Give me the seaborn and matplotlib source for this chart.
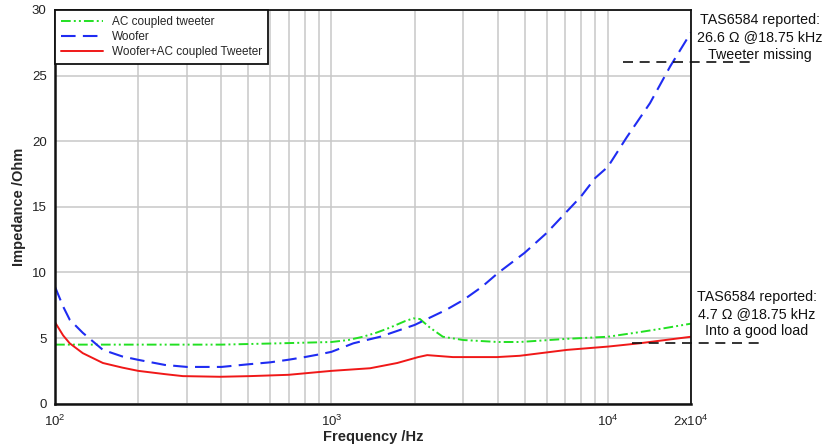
import numpy as np
import pandas as pd
import matplotlib
matplotlib.use("Agg")
import matplotlib.pyplot as plt
import seaborn as sns
from matplotlib.ticker import FixedLocator, NullFormatter

# ---- data ----
freq_tweeter = [100, 200, 400, 650, 1000, 1150, 1300, 1450, 1630, 1850, 1980, 2090, 2270,
                2530, 3000, 4000, 4800, 7100, 10000, 13000, 16000, 20000]
imp_tweeter = [4.5, 4.5, 4.5, 4.6, 4.7, 4.85, 5.1, 5.4, 5.8, 6.3, 6.5, 6.45, 5.8,
               5.1, 4.85, 4.7, 4.7, 4.94, 5.1, 5.45, 5.75, 6.1]

freq_woofer = [100, 107, 113, 126, 149, 175, 200, 250, 300, 400, 500, 600, 700, 800, 900,
               1000, 1200, 1500, 2000, 2600, 3000, 3500, 4000, 5000, 6000, 7000, 8000,
               9000, 10000, 11700, 14200, 16800, 20000]
imp_woofer = [8.9, 7.4, 6.4, 5.4, 4.1, 3.6, 3.34, 2.95, 2.8, 2.8, 3.0, 3.15, 3.35, 3.55, 3.75,
              3.95, 4.6, 5.1, 6.0, 7.15, 7.9, 8.9, 9.95, 11.5, 13.0, 14.5, 15.8,
              17.2, 18.05, 20.3, 22.9, 25.7, 28.3]

freq_combined = [100, 107, 113, 126, 149, 175, 200, 250, 290, 395, 507, 700, 1000, 1380,
                 1730, 2060, 2220, 2750, 3970, 4800, 7120, 10000, 13000, 20000]
imp_combined = [6.2, 5.2, 4.6, 3.85, 3.1, 2.75, 2.5, 2.25, 2.1, 2.05, 2.1, 2.2, 2.5, 2.7,
                3.1, 3.55, 3.7, 3.55, 3.55, 3.65, 4.1, 4.35, 4.6, 5.1]

series_names = ["AC coupled tweeter", "Woofer", "Woofer+AC coupled Tweeter"]
x_tick_values = [100, 1000, 10000, 20000]
x_tick_labels = ["$10^2$", "$10^3$", "$10^4$", "2x$10^4$"]
y_tick_values = [0, 5, 10, 15, 20, 25, 30]
reported_levels = [26.0, 4.65]
reported_texts = ["TAS6584 reported:\n26.6 \u03a9 @18.75 kHz\nTweeter missing",
                  "TAS6584 reported:\n4.7 \u03a9 @18.75 kHz\nInto a good load"]

# ---- style ----
sns.set_theme(style="white")
plt.rcParams["font.family"] = ["Liberation Sans", "DejaVu Sans"]
plt.rcParams["mathtext.fontset"] = "custom"
plt.rcParams["mathtext.rm"] = "Liberation Sans"
plt.rcParams["mathtext.it"] = "Liberation Sans:italic"
plt.rcParams["mathtext.bf"] = "Liberation Sans:bold"

fig = plt.figure(figsize=(8.25, 4.46), dpi=100)
ax = fig.add_axes([0.0667, 0.0949, 0.771, 0.8827])

df_t = pd.DataFrame({"f": freq_tweeter, "z": imp_tweeter})
df_w = pd.DataFrame({"f": freq_woofer, "z": imp_woofer})
df_c = pd.DataFrame({"f": freq_combined, "z": imp_combined})

sns.lineplot(data=df_t, x="f", y="z", ax=ax, color="#22e022", lw=1.4,
             estimator=None, sort=False, label=series_names[0])
sns.lineplot(data=df_w, x="f", y="z", ax=ax, color="#1f2cf2", lw=1.5,
             estimator=None, sort=False, label=series_names[1])
sns.lineplot(data=df_c, x="f", y="z", ax=ax, color="#f01818", lw=1.4,
             estimator=None, sort=False, label=series_names[2])

lines = ax.get_lines()
lines[0].set_dashes((5, 1.6, 1, 1.6, 1, 1.6))
lines[1].set_dashes((7, 3.5))

ax.set_xscale("log")
ax.set_xlim(100, 20000)
ax.set_ylim(0, 30)

minor = [m * 10 ** e for e in (2, 3) for m in range(2, 10)]
ax.xaxis.set_minor_locator(FixedLocator(minor))
ax.xaxis.set_minor_formatter(NullFormatter())
ax.set_xticks(x_tick_values)
ax.set_xticklabels(x_tick_labels)
ax.set_yticks(y_tick_values)
ax.set_yticklabels([str(v) for v in y_tick_values])
ax.tick_params(axis="both", which="both", length=0, labelsize=9.5, colors="#222222")
ax.tick_params(axis="x", pad=7)
ax.tick_params(axis="y", pad=6)

ax.grid(True, which="both", axis="x", color="#c8c8c8", lw=1.1)
ax.grid(True, which="major", axis="y", color="#c8c8c8", lw=1.1)
ax.set_axisbelow(True)

for s in ax.spines.values():
    s.set_color("#111111")
    s.set_linewidth(1.3)
ax.spines["left"].set_linewidth(1.8)
ax.spines["bottom"].set_linewidth(1.8)

ax.set_xlabel("Frequency /Hz", fontsize=10.5, fontweight="bold", labelpad=1)
ax.set_ylabel("Impedance /Ohm", fontsize=10.5, fontweight="bold", labelpad=4)

leg = ax.legend(loc="upper left", borderaxespad=0, fontsize=8.5, frameon=True,
                fancybox=False, framealpha=1, edgecolor="#111111",
                handlelength=3.6, handletextpad=0.7, labelspacing=0.25,
                borderpad=0.5)
leg.get_frame().set_linewidth(1.3)

# reported-value annotations (dashed markers extend past the right spine)
marker_spans = [(0.893, 1.0975), (0.907, 1.113)]
for lvl, (a, b) in zip(reported_levels, marker_spans):
    ax.plot([a, b], [lvl, lvl], transform=ax.get_yaxis_transform(),
            color="#111111", lw=1.2, dashes=(6, 4), clip_on=False)

fig.text(0.921, 0.916, reported_texts[0], ha="center", va="center",
         fontsize=10.3, linespacing=1.28, color="#111111")
fig.text(0.917, 0.296, reported_texts[1], ha="center", va="center",
         fontsize=10.3, linespacing=1.28, color="#111111")

fig.savefig("out.png", dpi=100)
